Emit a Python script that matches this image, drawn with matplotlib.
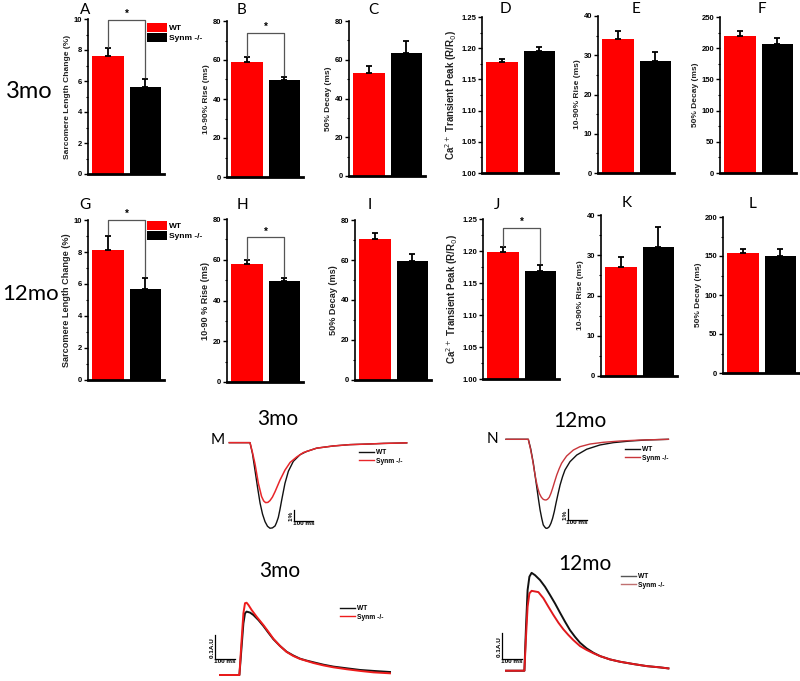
import matplotlib
matplotlib.use('Agg')
import matplotlib.pyplot as plt
from matplotlib.patches import Patch
from matplotlib.lines import Line2D
from matplotlib.ticker import MultipleLocator, FormatStrFormatter

# ---------------- data ----------------
groups = ['WT', 'Synm -/-']
bar_colors = ['#ff0000', '#000000']

# 3 month bar panels
A_mean = [7.6, 5.6];      A_err = [0.5, 0.55]
B_mean = [59.0, 49.5];    B_err = [2.5, 2.0]
C_mean = [53.0, 63.5];    C_err = [4.0, 6.0]
D_mean = [1.178, 1.195];  D_err = [0.005, 0.007]
E_mean = [34.2, 28.5];    E_err = [2.0, 2.3]
F_mean = [220.0, 206.0];  F_err = [7.0, 11.0]
# 12 month bar panels
G_mean = [8.15, 5.7];     G_err = [0.85, 0.7]
H_mean = [58.0, 49.5];    H_err = [1.8, 1.5]
I_mean = [70.5, 59.5];    I_err = [3.2, 3.5]
J_mean = [1.198, 1.168];  J_err = [0.008, 0.010]
K_mean = [27.0, 32.0];    K_err = [2.5, 5.0]
L_mean = [154.0, 150.0];  L_err = [5.0, 9.0]

ylabels = {
    'A': 'Sarcomere Length Change (%)', 'B': '10-90% Rise (ms)', 'C': '50% Decay (ms)',
    'D': 'Ca$^{2+}$ Transient Peak (R/R$_0$)', 'E': '10-90% Rise (ms)', 'F': '50% Decay (ms)',
    'G': 'Sarcomere Length Change (%)', 'H': '10-90 % Rise (ms)', 'I': '50% Decay (ms)',
    'J': 'Ca$^{2+}$ Transient Peak (R/R$_0$)', 'K': '10-90% Rise (ms)', 'L': '50% Decay (ms)',
}
# significance bracket heights
brackets = {'A': 9.95, 'B': 74.0, 'G': 10.0, 'H': 71.0, 'J': 1.236}

# sarcomere shortening traces (ms, % change)
M_wt_t = [-109, 0, 13, 26, 40, 53, 66, 79, 92, 105, 118, 132, 140, 149, 158, 167, 184, 202, 228, 263, 298, 351, 439, 526, 614, 702, 825]
M_wt_v = [0, 0, -1.0, -2.48, -4.1, -5.5, -6.5, -7.18, -7.6, -7.78, -7.75, -7.57, -7.25, -6.8, -6.05, -5.2, -3.7, -2.6, -1.7, -1.1, -0.8, -0.5, -0.3, -0.18, -0.13, -0.07, -0.02]
M_ko_t = [-109, 0, 13, 26, 44, 61, 72, 82, 94, 105, 118, 132, 158, 184, 211, 246, 281, 351, 439, 526, 614, 702, 825]
M_ko_v = [0, 0, -0.9, -1.9, -3.7, -4.9, -5.3, -5.45, -5.43, -5.27, -4.95, -4.45, -3.4, -2.5, -1.8, -1.3, -0.9, -0.5, -0.3, -0.18, -0.13, -0.07, -0.02]

N_wt_t = [-119, 0, 13, 27, 36, 45, 54, 63, 72, 80, 88, 95, 103, 112, 121, 130, 139, 148, 159, 170, 183, 196, 223, 259, 312, 383, 455, 544, 633, 749]
N_wt_v = [0, 0, -0.9, -2.24, -3.35, -4.43, -5.55, -6.6, -7.4, -8.0, -8.2, -8.32, -8.3, -8.17, -7.85, -7.38, -6.75, -5.98, -5.1, -4.27, -3.5, -2.87, -2.09, -1.47, -0.93, -0.53, -0.31, -0.16, -0.06, 0]
N_ko_t = [-119, 0, 11, 23, 32, 41, 50, 59, 70, 80, 88, 95, 103, 112, 121, 130, 141, 152, 165, 178, 192, 205, 241, 276, 330, 401, 490, 597, 749]
N_ko_v = [0, 0, -0.85, -1.93, -2.9, -3.8, -4.5, -5.05, -5.42, -5.61, -5.66, -5.67, -5.6, -5.42, -5.05, -4.58, -3.95, -3.34, -2.75, -2.24, -1.88, -1.56, -1.0, -0.69, -0.44, -0.28, -0.16, -0.07, 0]

# calcium transient traces (ms, A.U.)
Ca3_wt_t = [-100, -3, 8, 17, 25, 33, 50, 67, 92, 117, 142, 167, 200, 233, 267, 300, 333, 367, 417, 467, 533, 600, 667, 750]
Ca3_wt_v = [0, 0, 0.118, 0.215, 0.257, 0.264, 0.26, 0.25, 0.229, 0.204, 0.176, 0.149, 0.121, 0.097, 0.081, 0.068, 0.06, 0.053, 0.043, 0.035, 0.028, 0.021, 0.017, 0.0125]
Ca3_ko_t = [-100, -3, 8, 17, 25, 33, 42, 58, 83, 117, 142, 167, 200, 233, 267, 300, 367, 417, 467, 533, 600, 667, 750]
Ca3_ko_v = [0, 0, 0.146, 0.257, 0.299, 0.301, 0.292, 0.271, 0.243, 0.208, 0.18, 0.151, 0.121, 0.096, 0.079, 0.067, 0.05, 0.04, 0.032, 0.024, 0.017, 0.011, 0.007]

Ca12_wt_t = [-95, -3, 5, 13, 22, 33, 50, 75, 100, 125, 150, 175, 200, 225, 250, 275, 308, 342, 375, 425, 475, 542, 608, 675, 717]
Ca12_wt_v = [0, 0, 0.171, 0.314, 0.366, 0.381, 0.372, 0.353, 0.327, 0.295, 0.262, 0.226, 0.191, 0.158, 0.132, 0.109, 0.087, 0.070, 0.057, 0.044, 0.035, 0.026, 0.018, 0.013, 0.009]
Ca12_ko_t = [-95, -3, 5, 13, 22, 33, 67, 92, 117, 142, 167, 192, 217, 242, 275, 308, 342, 375, 425, 475, 542, 608, 675, 717]
Ca12_ko_v = [0, 0, 0.132, 0.249, 0.301, 0.311, 0.306, 0.282, 0.249, 0.217, 0.187, 0.161, 0.139, 0.119, 0.096, 0.081, 0.068, 0.057, 0.044, 0.035, 0.026, 0.018, 0.013, 0.009]

# ---------------- figure ----------------
W, H = 800, 681
fig = plt.figure(figsize=(8, 6.81), dpi=100)
SANS = ['Liberation Sans', 'DejaVu Sans']
TITLE = ['Lato', 'DejaVu Sans']


def px_ax(l, t, r, b):
    return fig.add_axes([l / W, 1 - b / H, (r - l) / W, (b - t) / H])


def fx(x):
    return x / W


def fy(y):
    return 1 - y / H


# layout: letter -> (axis x, top px, zero px, ymin, ymax, major, minor, fmt, letter x, letter y)
layout = {
    'A': (88, 19, 174, 0, 10, 2, 1, '%d', 85, 10),
    'B': (227, 21, 177, 0, 80, 20, 10, '%d', 241, 10),
    'C': (349, 21, 176, 0, 80, 20, 10, '%d', 373, 10),
    'D': (482, 17, 173, 1.0, 1.25, 0.05, 0.025, '%.2f', 505, 9),
    'E': (598, 16, 173, 0, 40, 10, 5, '%d', 636, 9),
    'F': (720, 17, 173, 0, 250, 50, 25, '%d', 762, 9),
    'G': (88, 220, 380, 0, 10, 2, 1, '%d', 85, 205),
    'H': (227, 219, 382, 0, 80, 20, 10, '%d', 242, 205),
    'I': (355, 220, 380, 0, 80, 20, 10, '%d', 370, 205),
    'J': (483, 219, 379, 1.0, 1.25, 0.05, 0.025, '%.2f', 497, 205),
    'K': (601, 215, 376, 0, 40, 10, 5, '%d', 627, 203),
    'L': (723, 217, 373, 0, 200, 50, 25, '%d', 753, 204),
}
values = {
    'A': (A_mean, A_err), 'B': (B_mean, B_err), 'C': (C_mean, C_err),
    'D': (D_mean, D_err), 'E': (E_mean, E_err), 'F': (F_mean, F_err),
    'G': (G_mean, G_err), 'H': (H_mean, H_err), 'I': (I_mean, I_err),
    'J': (J_mean, J_err), 'K': (K_mean, K_err), 'L': (L_mean, L_err),
}

xpos = [0, 1]
for key, (axx, top, zero, ymin, ymax, major, minor, fmt, lx, ly) in layout.items():
    mean, err = values[key]
    ax = px_ax(axx, top, axx + 76, zero)
    ax.set_xlim(-0.55, 1.5)
    ax.set_ylim(ymin, ymax)
    ax.bar(xpos, mean, width=0.86, color=bar_colors, zorder=2)
    ax.errorbar(xpos, mean, yerr=[[0, 0], err], fmt='none', ecolor='black',
                elinewidth=1.3, capsize=2.5, capthick=1.3, zorder=3)
    for s in ('top', 'right'):
        ax.spines[s].set_visible(False)
    ax.spines['left'].set_linewidth(1.2)
    ax.spines['bottom'].set_linewidth(2.0)
    ax.tick_params(axis='x', bottom=False, labelbottom=False)
    ax.yaxis.set_major_locator(MultipleLocator(major))
    ax.yaxis.set_minor_locator(MultipleLocator(minor))
    ax.yaxis.set_major_formatter(FormatStrFormatter(fmt))
    ax.tick_params(axis='y', which='major', direction='out', length=3, width=1,
                   labelsize=5.5, pad=1)
    ax.tick_params(axis='y', which='minor', direction='out', length=1.6, width=0.8)
    for lab in ax.get_yticklabels():
        lab.set_fontweight('bold')
        lab.set_family(SANS)
    if key in ('D', 'J'):
        fs = 7
    elif key in ('G', 'H', 'I'):
        fs = 6.6
    else:
        fs = 6
    ax.set_ylabel(ylabels[key], fontsize=fs, fontweight='bold',
                  family=SANS, labelpad=2, color='#222222')
    fig.text(fx(lx), fy(ly), key, ha='center', va='center', fontsize=11, family=TITLE)
    if key in brackets:
        yb = brackets[key]
        pad = (ymax - ymin) * 0.01
        ax.plot([0, 0, 1, 1], [mean[0] + err[0] + pad, yb, yb, mean[1] + err[1] + pad],
                color='#555555', lw=0.9, clip_on=False, zorder=4)
        ax.text(0.5, yb + (ymax - ymin) * 0.005, '*', ha='center', va='bottom',
                fontsize=7, fontweight='bold', family=SANS, clip_on=False)
    if key in ('A', 'G'):
        handles = [Patch(facecolor=c, edgecolor='none') for c in bar_colors]
        ytop = 23 if key == 'A' else 221
        ax.legend(handles, groups, loc='upper left', bbox_to_anchor=(fx(147), fy(ytop)),
                  bbox_transform=fig.transFigure, frameon=False, borderpad=0,
                  borderaxespad=0, handlelength=2.4, handleheight=1.2,
                  handletextpad=0.2, labelspacing=0.15,
                  prop={'size': 6, 'weight': 'bold', 'family': SANS})

# row labels
fig.text(fx(29), fy(91), '3mo', ha='center', va='center', fontsize=17, family=TITLE)
fig.text(fx(2), fy(294), '12mo', ha='left', va='center', fontsize=16, family=TITLE)


def trace_legend(ax, colors, x, y):
    handles = [Line2D([0], [0], color=c, lw=1.0) for c in colors]
    ax.legend(handles, groups, loc='upper left', bbox_to_anchor=(fx(x), fy(y)),
              bbox_transform=fig.transFigure, frameon=False, borderpad=0,
              borderaxespad=0, handlelength=2.2, handletextpad=0.4,
              labelspacing=0.25, prop={'size': 4.8, 'weight': 'bold', 'family': SANS})


def scalebar(ax, x0, y0, dx, dy, xlabel, ylabel):
    ax.plot([x0, x0, x0 + dx], [y0 + dy, y0, y0], color='black', lw=0.9)
    ax.text(x0 + dx / 2, y0, xlabel, ha='center', va='top', fontsize=4.6,
            fontweight='bold', family=SANS)
    ax.text(x0, y0 + dy / 2, ylabel + ' ', ha='right', va='center', rotation=90,
            fontsize=4.6, fontweight='bold', family=SANS)


# ---- M: 3mo sarcomere shortening ----
axM = px_ax(220, 430, 420, 540)
axM.set_xlim(-158, 895)
axM.set_ylim(-8.85, 1.15)
axM.axis('off')
axM.plot(M_wt_t, M_wt_v, color='#111111', lw=1.0)
axM.plot(M_ko_t, M_ko_v, color='#e8262a', lw=1.1)
scalebar(axM, 232, -7.12, 100, 1.0, '100 ms', '1%')
trace_legend(axM, ['#111111', '#e8262a'], 359, 449)
fig.text(fx(278), fy(419), '3mo', ha='center', va='center', fontsize=15, family=TITLE)
fig.text(fx(218), fy(440), 'M', ha='center', va='center', fontsize=11, family=TITLE)

# ---- N: 12mo sarcomere shortening ----
axN = px_ax(495, 430, 700, 540)
axN.set_xlim(-178, 918)
axN.set_ylim(-9.41, 0.87)
axN.axis('off')
axN.plot(N_wt_t, N_wt_v, color='#111111', lw=1.0)
axN.plot(N_ko_t, N_ko_v, color='#c8353a', lw=1.0)
scalebar(axN, 212, -7.55, 100, 1.0, '100 ms', '1%')
trace_legend(axN, ['#111111', '#c8353a'], 625, 446)
fig.text(fx(580), fy(421), '12mo', ha='center', va='center', fontsize=15, family=TITLE)
fig.text(fx(492), fy(439), 'N', ha='center', va='center', fontsize=11, family=TITLE)

# ---- 3mo Ca transient ----
axC3 = px_ax(200, 590, 420, 681)
axC3.set_xlim(-200, 900)
axC3.set_ylim(-0.025, 0.354)
axC3.axis('off')
axC3.plot(Ca3_wt_t, Ca3_wt_v, color='#111111', lw=1.4)
axC3.plot(Ca3_ko_t, Ca3_ko_v, color='#ee1c1c', lw=1.4)
scalebar(axC3, -125, 0.067, 100, 0.1, '100 ms', '0.1A.U')
trace_legend(axC3, ['#111111', '#ee1c1c'], 340, 605)
fig.text(fx(280), fy(571), '3mo', ha='center', va='center', fontsize=15, family=TITLE)

# ---- 12mo Ca transient ----
axC12 = px_ax(490, 560, 700, 681)
axC12.set_xlim(-175, 875)
axC12.set_ylim(-0.040, 0.431)
axC12.axis('off')
axC12.plot(Ca12_wt_t, Ca12_wt_v, color='#111111', lw=1.4)
axC12.plot(Ca12_ko_t, Ca12_ko_v, color='#e0191d', lw=1.4)
scalebar(axC12, -116.5, 0.0455, 100, 0.1, '100 ms', '0.1A.U')
trace_legend(axC12, ['#555555', '#c07070'], 621, 573)
fig.text(fx(585), fy(564), '12mo', ha='center', va='center', fontsize=15, family=TITLE)

fig.savefig('out.png', dpi=100)
